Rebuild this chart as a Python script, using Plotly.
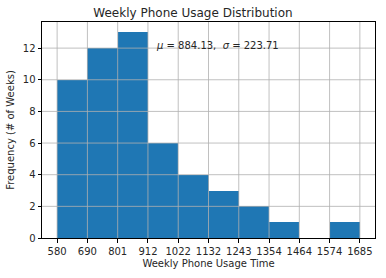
import plotly.graph_objects as go

# Data
bin_edges = [580, 690.5, 801, 911.5, 1022, 1132.5, 1243, 1353.5, 1464, 1574.5, 1685]
tick_labels = ["580", "690", "801", "912", "1022", "1132", "1243", "1354", "1464", "1574", "1685"]
counts = [10, 12, 13, 6, 4, 3, 2, 1, 0, 1]
y_ticks = [0, 2, 4, 6, 8, 10, 12]
mean_val = 884.13
std_val = 223.71

centers = [(bin_edges[i] + bin_edges[i + 1]) / 2 for i in range(len(counts))]
widths = [bin_edges[i + 1] - bin_edges[i] for i in range(len(counts))]

font = "DejaVu Sans"
grid_color = "#b0b0b0"

fig = go.Figure()
fig.add_trace(go.Bar(
    x=centers, y=counts, width=widths,
    marker=dict(color="#1f77b4", line=dict(width=0)),
    hoverinfo="skip",
))

span = bin_edges[-1] - bin_edges[0]
fig.update_layout(
    width=386, height=278,
    margin=dict(l=41, r=10, t=22, b=38),
    paper_bgcolor="white", plot_bgcolor="white",
    showlegend=False,
    bargap=0,
    font=dict(family=font, size=10, color="#262626"),
    title=dict(text="Weekly Phone Usage Distribution", x=0.5, xanchor="center",
               y=1 - 13 / 278, yanchor="middle", font=dict(size=12, color="#262626")),
    xaxis=dict(
        range=[bin_edges[0] - 0.05 * span, bin_edges[-1] + 0.05 * span],
        tickvals=bin_edges, ticktext=tick_labels,
        showgrid=False,
        showline=True, linecolor="black", linewidth=1, mirror=True,
        ticks="outside", ticklen=3.5, tickcolor="black",
        zeroline=False, layer="above traces",
        title=dict(text="Weekly Phone Usage Time", standoff=4, font=dict(size=10)),
        tickfont=dict(size=10),
    ),
    yaxis=dict(
        range=[0, max(counts) * 1.05],
        tickvals=y_ticks,
        showgrid=False,
        showline=True, linecolor="black", linewidth=1, mirror=True,
        ticks="outside", ticklen=3.5, tickcolor="black",
        zeroline=False, layer="above traces",
        title=dict(text="Frequency (# of Weeks)", standoff=6, font=dict(size=10)),
        tickfont=dict(size=10),
    ),
)

# grid lines drawn above the bars (as matplotlib does here); skip the one on the bottom spine
for xv in bin_edges:
    fig.add_shape(type="line", xref="x", yref="paper", x0=xv, x1=xv, y0=0, y1=1,
                  line=dict(color=grid_color, width=0.8), layer="above")
for yv in y_ticks[1:]:
    fig.add_shape(type="line", xref="paper", yref="y", x0=0, x1=1, y0=yv, y1=yv,
                  line=dict(color=grid_color, width=0.8), layer="above")

fig.add_annotation(
    x=932, y=12, xref="x", yref="y",
    text=f"<i>μ</i> = {mean_val:.2f},  <i>σ</i> = {std_val:.2f}",
    showarrow=False, xanchor="left", yanchor="bottom", yshift=-5,
    font=dict(size=10, color="#262626", family=font),
)

fig.write_html("out.html")
